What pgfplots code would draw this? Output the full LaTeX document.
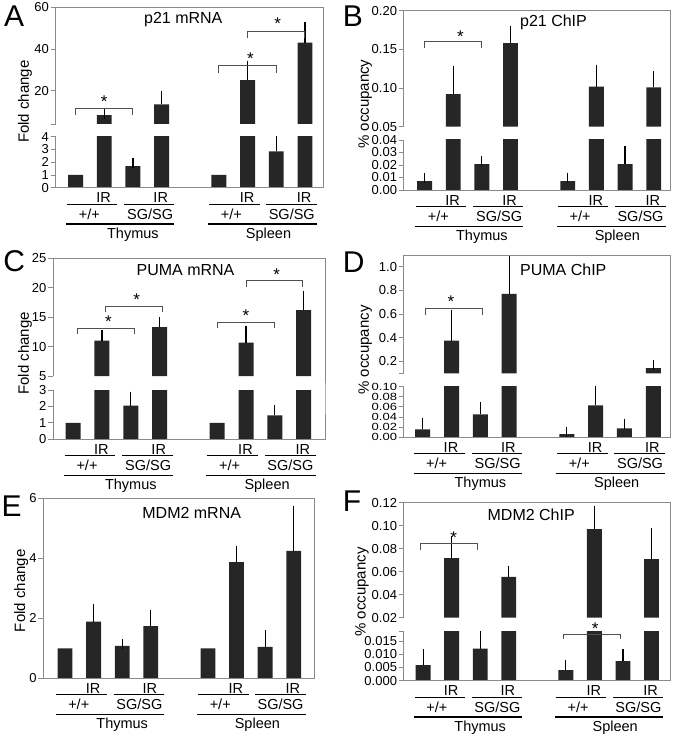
\documentclass[border=0pt]{standalone}
\usepackage{fontspec}
\setmainfont{Liberation Sans}
\usepackage{graphicx}
\usepackage{pgfplots}
\pgfplotsset{compat=1.18}
\usepackage{pgfplotstable}

\definecolor{barc}{HTML}{262626}
\definecolor{axgray}{HTML}{8A8A8A}
\definecolor{brkc}{HTML}{505050}
\newcommand{\fs}[1]{\fontsize{#1}{#1}\selectfont}
\newcommand{\sq}[1]{\scalebox{1}[0.8]{#1}}

\pgfplotsset{
 brkaxis/.style={scale only axis, anchor=south west, axis x line=none, axis y line=left,
   axis line style={-, draw=axgray, line width=0.9pt},
   tick style={draw=axgray, line width=0.9pt}, tick align=outside, major tick length=5pt,
   scaled y ticks=false,
   yticklabel style={font=\fs{13}, inner sep=1.5pt}, xtick=\empty, clip mode=individual},
 mybar/.style={ybar, bar width=0.52, bar shift=0pt, fill=barc, draw=none},
 myerr/.style={error bars/y dir=plus, error bars/y explicit,
   error bars/error bar style={line width=1.2pt, black},
   error bars/error mark options={line width=1.2pt, mark size=5pt, black}},
}
\tikzset{
 frame/.style={draw=axgray, line width=0.9pt, line cap=rect},
 brkline/.style={draw=brkc, line width=1pt},
 star/.style={font=\fs{17}, inner sep=0pt},
 annline/.style={draw=black, line width=1.3pt},
 xl/.style={font=\fs{14.5}, inner sep=0pt, anchor=base},
}
\newcommand{\brk}[6]{\draw[brkline] (axis cs:#1,#4) -- (axis cs:#1,#3) -- (axis cs:#2,#3) -- (axis cs:#2,#4);
 \node[star] at ([yshift=-3.5pt]axis cs:#5,#6) {*};}
\newcommand{\annot}{%
 \draw[annline] ([yshift=-16.5pt]axis cs:-0.3,0) -- ([yshift=-16.5pt]axis cs:1.46,0);
 \draw[annline] ([yshift=-16.5pt]axis cs:1.7,0) -- ([yshift=-16.5pt]axis cs:3.45,0);
 \draw[annline] ([yshift=-16.5pt]axis cs:4.65,0) -- ([yshift=-16.5pt]axis cs:6.42,0);
 \draw[annline] ([yshift=-16.5pt]axis cs:6.65,0) -- ([yshift=-16.5pt]axis cs:8.42,0);
 \draw[annline] ([yshift=-36.3pt]axis cs:-0.32,0) -- ([yshift=-36.3pt]axis cs:3.45,0);
 \draw[annline] ([yshift=-36.3pt]axis cs:4.62,0) -- ([yshift=-36.3pt]axis cs:8.42,0);
 \node[xl] at ([yshift=-15pt]axis cs:0.98,0) {IR};
 \node[xl] at ([yshift=-15pt]axis cs:2.97,0) {IR};
 \node[xl] at ([yshift=-15pt]axis cs:5.98,0) {IR};
 \node[xl] at ([yshift=-15pt]axis cs:7.97,0) {IR};
 \node[xl] at ([yshift=-31.5pt]axis cs:0.48,0) {+/+};
 \node[xl] at ([yshift=-31.5pt]axis cs:2.6,0) {SG/SG};
 \node[xl] at ([yshift=-31.5pt]axis cs:5.43,0) {+/+};
 \node[xl] at ([yshift=-31.5pt]axis cs:7.54,0) {SG/SG};
 \node[xl] at ([yshift=-50.5pt]axis cs:2.0,0) {Thymus};
 \node[xl] at ([yshift=-50.5pt]axis cs:6.73,0) {Spleen};
}

% ---------- data ----------
\pgfplotstableread{
x y
0 1
5 1
}\ctrl
\pgfplotstableread{
x y e
2 1.7 0.26
7 2.85 0.97
}\Alow
\pgfplotstableread{
x y e
1 8.3 0.5
3 13.4 4.1
6 25.1 6.9
8 43.0 7.7
}\Ahigh
\pgfplotstableread{
x y e
0 0.0072 0.0021
2 0.0208 0.0024
5 0.0072 0.0027
7 0.0208 0.0104
}\Blow
\pgfplotstableread{
x y e
1 0.092 0.030
3 0.158 0.016
6 0.1017 0.022
8 0.101 0.0146
}\Bhigh
\pgfplotstableread{
x y e
2 2.05 0.55
7 1.45 0.31
}\Clow
\pgfplotstableread{
x y e
1 11.0 0.97
3 13.3 0.8
6 10.66 2.04
8 16.2 2.4
}\Chigh
\pgfplotstableread{
x y e
0 0.0158 0.0132
2 0.0454 0.0146
5 0.0065 0.0045
6 0.063 0.035
7 0.0178 0.0092
}\Dlow
\pgfplotstableread{
x y e
1 0.377 0.219
3 0.772 0.318
8 0.143 0.027
}\Dhigh
\pgfplotstableread{
x y e
1 1.89 0.43
2 1.08 0.07
3 1.74 0.37
6 3.87 0.38
7 1.05 0.39
8 4.25 1.33
}\Eall
\pgfplotstableread{
x y e
0 0.0059 0.0040
2 0.0121 0.0047
5 0.0040 0.0021
7 0.0074 0.0025
}\Flow
\pgfplotstableread{
x y e
1 0.0718 0.0148
3 0.0555 0.0054
6 0.0971 0.0157
8 0.0709 0.0228
}\Fhigh

\begin{document}
\begin{tikzpicture}
\useasboundingbox (0,0) rectangle (677pt,-738pt);

% ================= A =================
\begin{axis}[brkaxis, at={(55.5pt,-124pt)}, width=267.8pt, height=116.7pt,
  xmin=-0.70, xmax=8.64, ymin=4, ymax=60, ytick={4,20,40,60}, yticklabels={,20,40,60}]
\addplot[mybar, myerr] table[x=x,y=y,y error=e]{\Ahigh};
\draw[frame] (rel axis cs:0,1) -- (rel axis cs:1,1) -- (rel axis cs:1,0);
\brk{0}{2}{11.5}{8.3}{1}{16.5}
\brk{5}{7}{32}{28.6}{6.1}{37.1}
\brk{6}{8}{48.3}{45.1}{7.05}{53.6}
\end{axis}
\begin{axis}[brkaxis, at={(55.5pt,-187.7pt)}, width=267.8pt, height=51pt,
  xmin=-0.70, xmax=8.64, ymin=0, ymax=4, ytick={0,1,2,3,4}, yticklabels={0,1,2,3,4}]
\addplot[mybar] table[x=x,y=y]{\ctrl};
\addplot[mybar, myerr] table[x=x,y=y,y error=e]{\Alow};
\addplot[mybar] table[x=x,y=y]{\Ahigh};
\draw[frame] (rel axis cs:0,0) -- (rel axis cs:1,0) -- (rel axis cs:1,1) -- ++(0pt,12.7pt);
\annot
\end{axis}

% ================= B =================
\begin{axis}[brkaxis, at={(403.7pt,-126.7pt)}, width=266.6pt, height=116pt,
  xmin=-0.73, xmax=8.58, ymin=0.05, ymax=0.20, ytick={0.05,0.10,0.15,0.20}, yticklabels={0.05,0.10,0.15,0.20}]
\addplot[mybar, myerr] table[x=x,y=y,y error=e]{\Bhigh};
\draw[frame] (rel axis cs:0,1) -- (rel axis cs:1,1) -- (rel axis cs:1,0);
\brk{0}{2}{0.16}{0.1514}{1.25}{0.171}
\end{axis}
\begin{axis}[brkaxis, at={(403.7pt,-190pt)}, width=266.6pt, height=50pt,
  xmin=-0.73, xmax=8.58, ymin=0, ymax=0.04, ytick={0,0.01,0.02,0.03,0.04}, yticklabels={0.00,0.01,0.02,0.03,0.04}]
\addplot[mybar, myerr] table[x=x,y=y,y error=e]{\Blow};
\addplot[mybar] table[x=x,y=y]{\Bhigh};
\draw[frame] (rel axis cs:0,0) -- (rel axis cs:1,0) -- (rel axis cs:1,1) -- ++(0pt,13.3pt);
\annot
\end{axis}

% ================= C =================
\begin{axis}[brkaxis, at={(53pt,-376pt)}, width=272pt, height=117.7pt,
  xmin=-0.70, xmax=8.74, ymin=5, ymax=25, ytick={5,10,15,20,25}, yticklabels={5,10,15,20,25}]
\addplot[mybar, myerr] table[x=x,y=y,y error=e]{\Chigh};
\draw[frame] (rel axis cs:0,1) -- (rel axis cs:1,1) -- (rel axis cs:1,0);
\brk{0.15}{2.12}{13.1}{12.1}{1.22}{14.9}
\brk{1.12}{3.09}{16.8}{15.8}{2.2}{18.5}
\brk{5}{6.98}{14.1}{13.1}{6.0}{15.8}
\brk{6}{7.95}{21.15}{20.1}{7.06}{22.9}
\end{axis}
\begin{axis}[brkaxis, at={(53pt,-439.3pt)}, width=272pt, height=49.3pt,
  xmin=-0.70, xmax=8.74, ymin=0, ymax=3, ytick={0,1,2,3}, yticklabels={0,1,2,3}]
\addplot[mybar] table[x=x,y=y]{\ctrl};
\addplot[mybar, myerr] table[x=x,y=y,y error=e]{\Clow};
\addplot[mybar] table[x=x,y=y]{\Chigh};
\draw[frame] (rel axis cs:0,0) -- (rel axis cs:1,0) -- (rel axis cs:1,1) -- ++(0pt,14pt);
\annot
\end{axis}

% ================= D =================
\begin{axis}[brkaxis, at={(403.7pt,-373.3pt)}, width=266.6pt, height=118.3pt,
  xmin=-0.66, xmax=8.59, ymin=0.1, ymax=1.1, ytick={0.1,0.2,0.4,0.6,0.8,1.0}, yticklabels={,0.2,0.4,0.6,0.8,1.0}]
\addplot[mybar, myerr] table[x=x,y=y,y error=e]{\Dhigh};
\draw[frame] (rel axis cs:0,1) -- (rel axis cs:1,1) -- (rel axis cs:1,0);
\brk{0.1}{2.08}{0.645}{0.596}{0.98}{0.737}
\end{axis}
\begin{axis}[brkaxis, at={(403.7pt,-437.3pt)}, width=266.6pt, height=50.6pt,
  xmin=-0.66, xmax=8.59, ymin=0, ymax=0.1, ytick={0,0.02,0.04,0.06,0.08,0.10},
  yticklabels={\sq{0.00},\sq{0.02},\sq{0.04},\sq{0.06},\sq{0.08},\sq{0.10}}]
\addplot[mybar, myerr] table[x=x,y=y,y error=e]{\Dlow};
\addplot[mybar] table[x=x,y=y]{\Dhigh};
\draw[frame] (rel axis cs:0,0) -- (rel axis cs:1,0) -- (rel axis cs:1,1) -- ++(0pt,13.4pt);
\annot
\end{axis}

% ================= E =================
\begin{axis}[brkaxis, at={(43.3pt,-678.3pt)}, width=270.7pt, height=180pt,
  xmin=-0.76, xmax=8.71, ymin=0, ymax=6, ytick={0,2,4,6}, yticklabels={0,2,4,6}]
\addplot[mybar] table[x=x,y=y]{\ctrl};
\addplot[mybar, myerr] table[x=x,y=y,y error=e]{\Eall};
\draw[frame] (rel axis cs:0,1) -- (rel axis cs:1,1) -- (rel axis cs:1,0) -- (rel axis cs:0,0);
\annot
\end{axis}

% ================= F =================
\begin{axis}[brkaxis, at={(403.7pt,-617.7pt)}, width=266.6pt, height=115pt,
  xmin=-0.68, xmax=8.66, ymin=0.02, ymax=0.12, ytick={0.02,0.04,0.06,0.08,0.10,0.12}, yticklabels={0.02,0.04,0.06,0.08,0.10,0.12}]
\addplot[mybar, myerr] table[x=x,y=y,y error=e]{\Fhigh};
\draw[frame] (rel axis cs:0,1) -- (rel axis cs:1,1) -- (rel axis cs:1,0);
\brk{-0.1}{1.89}{0.0846}{0.0789}{1.07}{0.0923}
\end{axis}
\begin{axis}[brkaxis, at={(403.7pt,-680.7pt)}, width=266.6pt, height=49pt,
  xmin=-0.68, xmax=8.66, ymin=0, ymax=0.0185, ytick={0,0.005,0.010,0.015,0.0185}, yticklabels={0.000,0.005,0.010,0.015,}]
\addplot[mybar, myerr] table[x=x,y=y,y error=e]{\Flow};
\addplot[mybar] table[x=x,y=y]{\Fhigh};
\draw[frame] (rel axis cs:0,0) -- (rel axis cs:1,0) -- (rel axis cs:1,1) -- ++(0pt,14pt);
\brk{4.92}{6.91}{0.0175}{0.0159}{6.03}{0.021}
\annot
\end{axis}

% ---------- titles, letters, y labels ----------
\begin{scope}[every node/.style={inner sep=0pt}]
\node[font=\fs{16}, anchor=base] at (183.3pt,-24pt) {p21 mRNA};
\node[font=\fs{16}, anchor=base] at (553.5pt,-26.7pt) {p21 ChIP};
\node[font=\fs{16}, anchor=base] at (185.5pt,-275.7pt) {PUMA mRNA};
\node[font=\fs{16}, anchor=base] at (563.3pt,-275pt) {PUMA ChIP};
\node[font=\fs{16}, anchor=base] at (191.7pt,-518.3pt) {MDM2 mRNA};
\node[font=\fs{16}, anchor=base] at (531.2pt,-520pt) {MDM2 ChIP};

\node[font=\fs{30}] at (14.2pt,-15.8pt) {A};
\node[font=\fs{30}] at (352.8pt,-15.8pt) {B};
\node[font=\fs{30}] at (14.2pt,-260.8pt) {C};
\node[font=\fs{30}] at (353.7pt,-262.5pt) {D};
\node[font=\fs{30}] at (11.7pt,-505.8pt) {E};
\node[font=\fs{30}] at (352pt,-500.8pt) {F};

\node[font=\fs{15}, rotate=90] at (25pt,-101.7pt) {Fold change};
\node[font=\fs{15}, rotate=90] at (365.3pt,-104.2pt) {\% occupancy};
\node[font=\fs{15}, rotate=90] at (25pt,-353.3pt) {Fold change};
\node[font=\fs{15}, rotate=90] at (365.3pt,-350pt) {\% occupancy};
\node[font=\fs{15}, rotate=90] at (21.3pt,-590.8pt) {Fold change};
\node[font=\fs{15}, rotate=90] at (362pt,-592pt) {\% occupancy};
\end{scope}
\end{tikzpicture}
\end{document}
